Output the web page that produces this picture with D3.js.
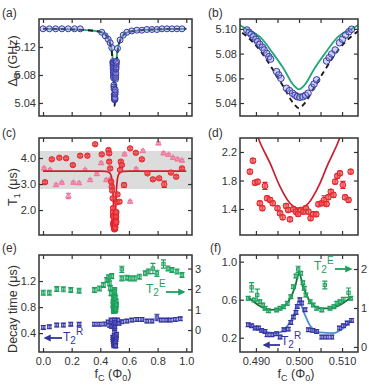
<!DOCTYPE html>
<html>
<head>
<meta charset="utf-8">
<script src="https://cdn.jsdelivr.net/npm/d3@7"></script>
<style>
  body { margin: 0; background: #fff; }
  svg { font-family: "Liberation Sans", Arial, sans-serif; }
</style>
</head>
<body>
<svg id="fig" width="369" height="385"></svg>
<script>
// ---- data: [flux f_C (Phi0), value, (error)] ----
const freqPts = [
  [0.0, 5.146], [0.044, 5.146], [0.088, 5.146], [0.132, 5.146], [0.176, 5.146], [0.22, 5.146], [0.26, 5.146],
  [0.41, 5.141], [0.434, 5.136], [0.455, 5.131], [0.469, 5.126], [0.48, 5.119],
  [0.4879, 5.0991], [0.4884, 5.0972], [0.4889, 5.0956], [0.4894, 5.0937], [0.49, 5.0916], [0.4904, 5.0896],
  [0.4909, 5.0875], [0.4915, 5.0851], [0.4919, 5.0829], [0.4925, 5.0802], [0.493, 5.0775], [0.4934, 5.0756],
  [0.4948, 5.0654], [0.4953, 5.0627], [0.4958, 5.06], [0.4971, 5.0519], [0.4978, 5.05], [0.4985, 5.0479],
  [0.4991, 5.0463], [0.4996, 5.0451], [0.5002, 5.0447], [0.5009, 5.0451], [0.5015, 5.0463], [0.5021, 5.0479],
  [0.503, 5.0527], [0.5035, 5.0554], [0.5041, 5.0587], [0.5064, 5.074], [0.507, 5.0767], [0.5076, 5.0797],
  [0.5084, 5.0829], [0.5094, 5.0888], [0.5101, 5.0916], [0.5108, 5.0951], [0.5116, 5.0977], [0.5122, 5.0997],
  [0.52, 5.118], [0.538, 5.13], [0.56, 5.137], [0.585, 5.141],
  [0.62, 5.143], [0.655, 5.144], [0.69, 5.144], [0.725, 5.145], [0.76, 5.145], [0.795, 5.145],
  [0.83, 5.146], [0.865, 5.146], [0.9, 5.146], [0.935, 5.146], [0.97, 5.146]
]
const freqFit = [
  [0, 5.146], [0.1, 5.1458], [0.2, 5.1452], [0.3, 5.1442], [0.35, 5.1432], [0.4, 5.1415], [0.43, 5.139],
  [0.45, 5.1345], [0.465, 5.128], [0.475, 5.121], [0.482, 5.1125], [0.4865, 5.1025], [0.4879, 5.0997],
  [0.4909, 5.0937], [0.494, 5.080], [0.4964, 5.068], [0.4987, 5.0546], [0.5, 5.051], [0.5013, 5.0546],
  [0.5036, 5.068], [0.506, 5.080], [0.5091, 5.0937], [0.5121, 5.0997], [0.5135, 5.1025], [0.518, 5.1125],
  [0.525, 5.121], [0.535, 5.128], [0.55, 5.1345], [0.57, 5.139], [0.6, 5.1415], [0.65, 5.1432],
  [0.7, 5.1442], [0.8, 5.1452], [0.9, 5.1458], [1.0, 5.146]
]
const freqModel = [
  [0, 5.146], [0.1, 5.1458], [0.2, 5.1452], [0.3, 5.1442], [0.35, 5.1432], [0.4, 5.1415], [0.43, 5.1385],
  [0.45, 5.134], [0.465, 5.127], [0.475, 5.119], [0.482, 5.109], [0.4855, 5.1], [0.4875, 5.095],
  [0.4909, 5.0829], [0.494, 5.0667], [0.4964, 5.0532], [0.4987, 5.0398], [0.5, 5.0358], [0.5013, 5.0398],
  [0.5036, 5.0532], [0.506, 5.0667], [0.5091, 5.0829], [0.5125, 5.095], [0.5145, 5.1], [0.518, 5.109],
  [0.525, 5.119], [0.535, 5.127], [0.55, 5.134], [0.57, 5.1385], [0.6, 5.1415], [0.65, 5.1432],
  [0.7, 5.1442], [0.8, 5.1452], [0.9, 5.1458], [1.0, 5.146]
]
const t1Red = [
  [0.014, 3.07], [0.061, 3.95], [0.114, 4.01], [0.161, 3.99], [0.208, 3.73], [0.259, 4.09], [0.31, 4.09],
  [0.364, 4.53], [0.41, 4.14], [0.457, 4.31], [0.462, 4.18], [0.462, 3.86], [0.469, 3.6], [0.476, 3.09],
  [0.48, 2.9], [0.483, 2.75], [0.486, 2.45], [0.516, 2.3], [0.52, 2.6], [0.534, 2.32], [0.538, 3.54],
  [0.543, 3.86], [0.55, 3.73], [0.566, 2.96, 0.08], [0.608, 4.37], [0.648, 4.2], [0.69, 3.95], [0.729, 3.41],
  [0.767, 3.18], [0.811, 3.22], [0.846, 2.99, 0.12], [0.893, 3.44], [0.93, 3.28], [0.97, 3.6],
  [0.4886, 1.924], [0.4893, 2.078], [0.4898, 1.769], [0.4904, 1.783], [0.4909, 1.48], [0.4915, 1.41],
  [0.4921, 1.723, 0.05], [0.4926, 1.55], [0.4933, 1.526], [0.4939, 1.48], [0.495, 1.41], [0.4956, 1.34],
  [0.4962, 1.283], [0.497, 1.442], [0.4975, 1.386], [0.4979, 1.255], [0.4987, 1.396], [0.4993, 1.362],
  [0.4998, 1.33], [0.5004, 1.386], [0.501, 1.362], [0.5016, 1.41], [0.5022, 1.362], [0.5027, 1.27],
  [0.5033, 1.326], [0.504, 1.326], [0.5045, 1.466], [0.5053, 1.48], [0.5058, 1.526, 0.06], [0.5064, 1.47],
  [0.5068, 1.564], [0.5074, 1.643], [0.508, 1.597], [0.5084, 1.783], [0.5089, 1.863], [0.5095, 1.901],
  [0.5102, 1.737, 0.05], [0.5107, 1.564], [0.5115, 1.526], [0.512, 1.924]
]
const t1Pink = [
  [0.007, 3.6], [0.049, 3.54], [0.091, 2.96], [0.131, 3.05], [0.177, 2.54, 0.1], [0.212, 3.05], [0.252, 3.03],
  [0.294, 3.54], [0.329, 3.15], [0.376, 3.38], [0.406, 3.8], [0.441, 3.15], [0.469, 3.18], [0.569, 4.14],
  [0.608, 2.32], [0.65, 3.57], [0.697, 4.27], [0.806, 4.56], [0.841, 4.18], [0.876, 4.12], [0.907, 4.01],
  [0.939, 3.95], [0.97, 3.9]
]
const t1Fit = [
  [0, 3.5], [0.2, 3.5], [0.4, 3.5], [0.44, 3.49], [0.46, 3.45], [0.47, 3.39], [0.478, 3.27], [0.483, 3.08],
  [0.487, 2.8], [0.4895, 2.55], [0.4911, 2.312], [0.4933, 2.04], [0.4956, 1.713], [0.4979, 1.48], [0.5, 1.41],
  [0.5022, 1.48], [0.5045, 1.713], [0.5068, 2.04], [0.5088, 2.298], [0.5105, 2.55], [0.513, 2.8],
  [0.517, 3.08], [0.522, 3.27], [0.53, 3.39], [0.54, 3.45], [0.56, 3.49], [0.6, 3.5], [0.8, 3.5], [1.0, 3.5]
]
// T2 echo (right axis) and T2 Ramsey (left axis), microseconds
const t2E = [
  [0.002, 1.82], [0.044, 1.82], [0.096, 2.0], [0.142, 1.99], [0.194, 1.95], [0.252, 1.92], [0.359, 1.95],
  [0.394, 2.03], [0.422, 2.2], [0.445, 2.44], [0.457, 2.57], [0.464, 2.28], [0.47, 2.05], [0.475, 1.8],
  [0.48, 2.63], [0.55, 2.96, 0.15], [0.55, 2.52], [0.585, 2.55], [0.608, 2.52], [0.639, 2.52], [0.673, 2.6],
  [0.713, 2.77], [0.736, 2.85], [0.767, 3.0, 0.25], [0.795, 2.77, 0.15], [0.841, 3.22, 0.2], [0.872, 3.0],
  [0.9, 2.93], [0.935, 2.85], [0.97, 2.68],
  [0.4882, 1.249], [0.489, 1.53, 0.12], [0.4896, 1.205], [0.4903, 1.333, 0.15], [0.4909, 1.162],
  [0.4916, 1.077], [0.4921, 0.992], [0.4929, 0.931], [0.4948, 0.949], [0.4956, 0.992], [0.4964, 1.033],
  [0.4973, 1.12], [0.4981, 1.29], [0.4987, 1.546], [0.4993, 1.82], [0.4998, 1.99, 0.08], [0.5004, 1.89],
  [0.5009, 1.65], [0.5012, 1.505], [0.5016, 1.333], [0.5026, 1.162], [0.5033, 1.077], [0.5041, 0.992],
  [0.5053, 0.949], [0.506, 1.59, 0.1], [0.5072, 0.992], [0.5081, 1.033], [0.5088, 1.12], [0.5095, 1.162],
  [0.5103, 1.223], [0.5115, 1.392, 0.12], [0.512, 1.249]
]
const t2R = [
  [0.002, 0.488], [0.044, 0.497], [0.096, 0.523], [0.142, 0.523], [0.194, 0.538], [0.252, 0.538],
  [0.359, 0.538], [0.394, 0.538], [0.43, 0.54], [0.455, 0.57], [0.465, 0.52], [0.475, 0.6], [0.48, 0.5],
  [0.52, 0.6], [0.53, 0.55], [0.55, 0.574], [0.585, 0.585], [0.62, 0.6], [0.655, 0.61], [0.69, 0.61],
  [0.725, 0.585], [0.76, 0.585], [0.795, 0.64, 0.05], [0.825, 0.6], [0.858, 0.6], [0.888, 0.6],
  [0.923, 0.61], [0.958, 0.62],
  [0.4882, 0.337], [0.489, 0.326], [0.4898, 0.302], [0.4906, 0.302], [0.4913, 0.277], [0.4921, 0.266],
  [0.4926, 0.232], [0.4937, 0.232], [0.4948, 0.242], [0.4956, 0.207], [0.4965, 0.284], [0.4975, 0.291],
  [0.4981, 0.361], [0.4987, 0.418], [0.4993, 0.466], [0.4996, 0.529], [0.5002, 0.6], [0.5006, 0.565],
  [0.5014, 0.495], [0.5022, 0.284], [0.5032, 0.277], [0.5041, 0.266], [0.5053, 0.207], [0.5064, 0.207],
  [0.5076, 0.207], [0.5094, 0.302], [0.5103, 0.326], [0.5112, 0.355], [0.5122, 0.382]
]
const t2EFit = [
  [0.4882, 1.274], [0.4909, 1.051], [0.4933, 0.949], [0.4956, 0.982], [0.4975, 1.162], [0.4991, 1.546],
  [0.5, 1.89], [0.501, 1.546], [0.5026, 1.162], [0.5049, 0.992], [0.5072, 0.992], [0.5095, 1.077],
  [0.5122, 1.29]
]
const t2RFit = [
  [0.4886, 0.326], [0.4917, 0.266], [0.4948, 0.249], [0.4971, 0.312], [0.4987, 0.424], [0.5, 0.582],
  [0.5012, 0.46], [0.5026, 0.326], [0.5049, 0.256], [0.508, 0.249], [0.5103, 0.302], [0.5122, 0.382]
]
const t1Band = [2.81, 4.27]
const wideTicks = [0, 0.2, 0.4, 0.6, 0.8, 1.0]
const narrowTicks = [0.490, 0.495, 0.500, 0.505, 0.510]

// ---- layout ----
const svg = d3.select('#fig')
const ink = '#333'
const L = { x0: 39, x1: 192 }
const R = { x0: 240, x1: 358 }
const rows = [{ y0: 19, y1: 116 }, { y0: 138, y1: 235 }, { y0: 255, y1: 352 }]
const xWide = d3.scaleLinear().domain([-0.028, 1.04]).range([L.x0, L.x1])
const xNarrow = d3.scaleLinear().domain([0.4863, 0.5137]).range([R.x0, R.x1])

const line = (xs, ys) => d3.line().x(d => xs(d[0])).y(d => ys(d[1])).curve(d3.curveMonotoneX)

function makePanel (id, col, row) {
  const b = { x0: col.x0, x1: col.x1, y0: row.y0, y1: row.y1 }
  const g = svg.append('g')
  g.append('clipPath').attr('id', 'clip-' + id)
    .append('rect').attr('x', b.x0).attr('y', b.y0).attr('width', b.x1 - b.x0).attr('height', b.y1 - b.y0)
  const plot = g.append('g').attr('clip-path', `url(#clip-${id})`)
  return { b, g, plot }
}

function axes (p, xs, ys, o) {
  const { b, g } = p
  const ax = g.append('g')
  ax.append('g').attr('transform', `translate(0,${b.y1})`)
    .call(d3.axisBottom(xs).tickValues(o.xt).tickSize(-4).tickPadding(5).tickFormat(o.xf || (() => '')))
  ax.append('g').attr('transform', `translate(0,${b.y0})`)
    .call(d3.axisTop(xs).tickValues(o.xt).tickSize(-4).tickFormat(() => ''))
  ax.append('g').attr('transform', `translate(${b.x0},0)`)
    .call(d3.axisLeft(ys).tickValues(o.yt).tickSize(-4).tickPadding(3).tickFormat(o.yf))
  if (o.yr) {
    ax.append('g').attr('transform', `translate(${b.x1},0)`)
      .call(d3.axisRight(o.yr).tickValues(o.yrt).tickSize(-4).tickPadding(3).tickFormat(d3.format('d')))
  } else {
    ax.append('g').attr('transform', `translate(${b.x1},0)`)
      .call(d3.axisRight(ys).tickValues(o.yt).tickSize(-4).tickFormat(() => ''))
  }
  ax.selectAll('.domain').remove()
  ax.selectAll('.tick line').attr('stroke', ink).attr('stroke-width', 1.2)
  ax.selectAll('.tick text').attr('fill', ink)
    .style('font-size', '11px').style('font-family', '"Liberation Sans", Arial, sans-serif')
  g.append('rect').attr('x', b.x0).attr('y', b.y0).attr('width', b.x1 - b.x0).attr('height', b.y1 - b.y0)
    .attr('fill', 'none').attr('stroke', ink).attr('stroke-width', 1.5)
}

function errBars (sel, data, xs, ys, color, cap, defErr) {
  sel.selectAll(null).data(data).enter().append('path')
    .attr('d', d => {
      const e = d[2] || defErr
      const x = xs(d[0]); const a = ys(d[1] - e); const c = ys(d[1] + e)
      return `M${x},${a}V${c}M${x - cap},${a}H${x + cap}M${x - cap},${c}H${x + cap}`
    })
    .attr('stroke', color).attr('stroke-width', 1.1).attr('fill', 'none')
}

function panelLabel (txt, x, y) {
  svg.append('text').attr('x', x).attr('y', y).attr('fill', ink).style('font-size', '12px').text(txt)
}

const blueFill = 'rgba(140,150,225,0.4)'
const blueStroke = '#3a3aa6'
const green = '#21a874'
const red = '#e4222c'
const pink = '#ee7398'

// ---- (a) and (b): qubit frequency ----
function freqPanel (id, col, xs, ys, r) {
  const p = makePanel(id, col, rows[0])
  p.plot.append('path').datum(freqFit).attr('d', line(xs, ys))
    .attr('fill', 'none').attr('stroke', green).attr('stroke-width', 1.8)
  p.plot.append('path').datum(freqModel).attr('d', line(xs, ys))
    .attr('fill', 'none').attr('stroke', '#1a1a1a').attr('stroke-width', 1.9).attr('stroke-dasharray', '5,4')
  p.plot.selectAll('circle').data(freqPts).enter().append('circle')
    .attr('cx', d => xs(d[0])).attr('cy', d => ys(d[1])).attr('r', r)
    .attr('fill', blueFill).attr('stroke', blueStroke).attr('stroke-width', 1)
  return p
}
const yA = d3.scaleLinear().domain([5.0214, 5.16]).range([rows[0].y1, rows[0].y0])
const yB = d3.scaleLinear().domain([5.0295, 5.108]).range([rows[0].y1, rows[0].y0])
const pA = freqPanel('a', L, xWide, yA, 3)
axes(pA, xWide, yA, { xt: wideTicks, yt: [5.04, 5.08, 5.12], yf: d3.format('.2f') })
const pB = freqPanel('b', R, xNarrow, yB, 3.3)
axes(pB, xNarrow, yB, { xt: narrowTicks, yt: [5.04, 5.06, 5.08, 5.10], yf: d3.format('.2f') })

// ---- (c) and (d): T1 ----
function t1Panel (id, col, xs, ys, band) {
  const p = makePanel(id, col, rows[1])
  if (band) {
    p.plot.append('rect').attr('x', col.x0).attr('width', col.x1 - col.x0)
      .attr('y', ys(t1Band[1])).attr('height', ys(t1Band[0]) - ys(t1Band[1])).attr('fill', '#dcdcdc')
    errBars(p.plot, t1Pink, xs, ys, pink, 2.3, 0.05)
    p.plot.selectAll('.tri').data(t1Pink).enter().append('path')
      .attr('transform', d => `translate(${xs(d[0])},${ys(d[1])})`)
      .attr('d', d3.symbol(d3.symbolTriangle, 13))
      .attr('fill', 'rgba(240,140,170,0.6)').attr('stroke', pink).attr('stroke-width', 0.9)
  }
  p.plot.append('path').datum(t1Fit).attr('d', line(xs, ys))
    .attr('fill', 'none').attr('stroke', '#c8202e').attr('stroke-width', 1.7)
  errBars(p.plot, t1Red, xs, ys, red, 2.6, band ? 0.05 : 0.03)
  p.plot.selectAll('circle').data(t1Red).enter().append('circle')
    .attr('cx', d => xs(d[0])).attr('cy', d => ys(d[1])).attr('r', band ? 2.7 : 2.9)
    .attr('fill', 'rgba(240,80,80,0.7)').attr('stroke', red).attr('stroke-width', 1)
  return p
}
const yC = d3.scaleLinear().domain([1.04, 4.77]).range([rows[1].y1, rows[1].y0])
const yD = d3.scaleLinear().domain([1.035, 2.396]).range([rows[1].y1, rows[1].y0])
const pC = t1Panel('c', L, xWide, yC, true)
axes(pC, xWide, yC, { xt: wideTicks, yt: [2, 3, 4], yf: d3.format('.1f') })
const pD = t1Panel('d', R, xNarrow, yD, false)
axes(pD, xNarrow, yD, { xt: narrowTicks, yt: [1.4, 1.8, 2.2], yf: d3.format('.1f') })

// ---- (e) and (f): dephasing times ----
const greenT2 = '#1f9f5e'
const blueT2 = '#3434a0'
function t2Panel (id, col, xs, yl, yr, fits) {
  const p = makePanel(id, col, rows[2])
  if (fits) {
    p.plot.append('path').datum(t2EFit).attr('d', line(xs, yr))
      .attr('fill', 'none').attr('stroke', '#1b6e35').attr('stroke-width', 1.8)
    p.plot.append('path').datum(t2RFit).attr('d', line(xs, yl))
      .attr('fill', 'none').attr('stroke', '#4d8fd6').attr('stroke-width', 1.8)
  }
  errBars(p.plot, t2E, xs, yr, greenT2, 2.6, fits ? 0.05 : 0.12)
  p.plot.selectAll('.se').data(t2E).enter().append('rect')
    .attr('x', d => xs(d[0]) - 1.7).attr('y', d => yr(d[1]) - 1.7).attr('width', 3.4).attr('height', 3.4)
    .attr('fill', 'rgba(60,190,120,0.45)').attr('stroke', greenT2).attr('stroke-width', 0.9)
  errBars(p.plot, t2R, xs, yl, blueT2, 2.6, fits ? 0.02 : 0.03)
  p.plot.selectAll('.sr').data(t2R).enter().append('rect')
    .attr('x', d => xs(d[0]) - 1.7).attr('y', d => yl(d[1]) - 1.7).attr('width', 3.4).attr('height', 3.4)
    .attr('fill', 'rgba(110,110,210,0.45)').attr('stroke', blueT2).attr('stroke-width', 0.9)
  return p
}
const yEL = d3.scaleLinear().domain([0.11, 1.6]).range([rows[2].y1, rows[2].y0])
const yER = d3.scaleLinear().domain([-1.07, 3.66]).range([rows[2].y1, rows[2].y0])
const yFL = d3.scaleLinear().domain([0.05, 1.07]).range([rows[2].y1, rows[2].y0])
const yFR = d3.scaleLinear().domain([-0.13, 2.36]).range([rows[2].y1, rows[2].y0])
const pE = t2Panel('e', L, xWide, yEL, yER, false)
axes(pE, xWide, yEL, { xt: wideTicks, xf: d3.format('.1f'), yt: [0.4, 0.8, 1.2], yf: d3.format('.1f'), yr: yER, yrt: [0, 1, 2, 3] })
const pF = t2Panel('f', R, xNarrow, yFL, yFR, true)
axes(pF, xNarrow, yFL, {
  xt: narrowTicks,
  xf: d => (Math.abs(d - 0.495) < 1e-6 || Math.abs(d - 0.505) < 1e-6) ? '' : d3.format('.3f')(d),
  yt: [0.2, 0.6, 1.0], yf: d3.format('.1f'), yr: yFR, yrt: [0, 1, 2]
})

// ---- arrows and T2 labels ----
const defs = svg.append('defs')
function marker (id, color) {
  defs.append('marker').attr('id', id).attr('viewBox', '0 0 10 10').attr('refX', 8).attr('refY', 5)
    .attr('markerWidth', 4).attr('markerHeight', 4).attr('orient', 'auto')
    .append('path').attr('d', 'M0,0L10,5L0,10Z').attr('fill', color)
}
marker('arG', greenT2)
marker('arB', blueT2)
function t2Label (x, y, sup, color) {
  const t = svg.append('text').attr('x', x).attr('y', y).attr('fill', color).style('font-size', '12px')
  t.append('tspan').text('T')
  t.append('tspan').attr('dy', 3).style('font-size', '10px').text('2')
  t.append('tspan').attr('dy', -9).style('font-size', '10px').text(sup)
}
function arrow (x1, x2, y, id, color) {
  svg.append('line').attr('x1', x1).attr('x2', x2).attr('y1', y).attr('y2', y)
    .attr('stroke', color).attr('stroke-width', 1.8).attr('marker-end', `url(#${id})`)
}
t2Label(146, 293, 'E', greenT2)
arrow(166, 184, 292, 'arG', greenT2)
t2Label(63, 341, 'R', blueT2)
arrow(62, 45, 338, 'arB', blueT2)
t2Label(314, 270, 'E', greenT2)
arrow(335, 351, 269, 'arG', greenT2)
t2Label(281, 345, 'R', blueT2)
arrow(280, 264, 345, 'arB', blueT2)

// ---- panel letters and axis titles ----
panelLabel('(a)', 2, 17)
panelLabel('(b)', 208, 17)
panelLabel('(c)', 2, 137)
panelLabel('(d)', 208, 137)
panelLabel('(e)', 2, 252)
panelLabel('(f)', 210, 252)

function yTitle (x, y, build) {
  const t = svg.append('text').attr('transform', `translate(${x},${y}) rotate(-90)`)
    .attr('text-anchor', 'middle').attr('fill', ink).style('font-size', '12.5px')
  build(t)
}
yTitle(17, 61, t => {
  t.append('tspan').text('Δ')
  t.append('tspan').attr('dy', 3).style('font-size', '9px').text('B')
  t.append('tspan').attr('dy', -3).text(' (GHz)')
})
yTitle(17, 187, t => {
  t.append('tspan').text('T')
  t.append('tspan').attr('dy', 3).style('font-size', '9px').text('1')
  t.append('tspan').attr('dy', -3).text(' (μs)')
})
yTitle(17, 309, t => { t.text('Decay time (μs)') })

function xTitle (x) {
  const t = svg.append('text').attr('x', x).attr('y', 378).attr('text-anchor', 'middle')
    .attr('fill', ink).style('font-size', '12.5px')
  t.append('tspan').text('f')
  t.append('tspan').attr('dy', 3).style('font-size', '9px').text('C')
  t.append('tspan').attr('dy', -3).text(' (Φ')
  t.append('tspan').attr('dy', 3).style('font-size', '9px').text('0')
  t.append('tspan').attr('dy', -3).text(')')
}
xTitle(113)
xTitle(296)
</script>
</body>
</html>
